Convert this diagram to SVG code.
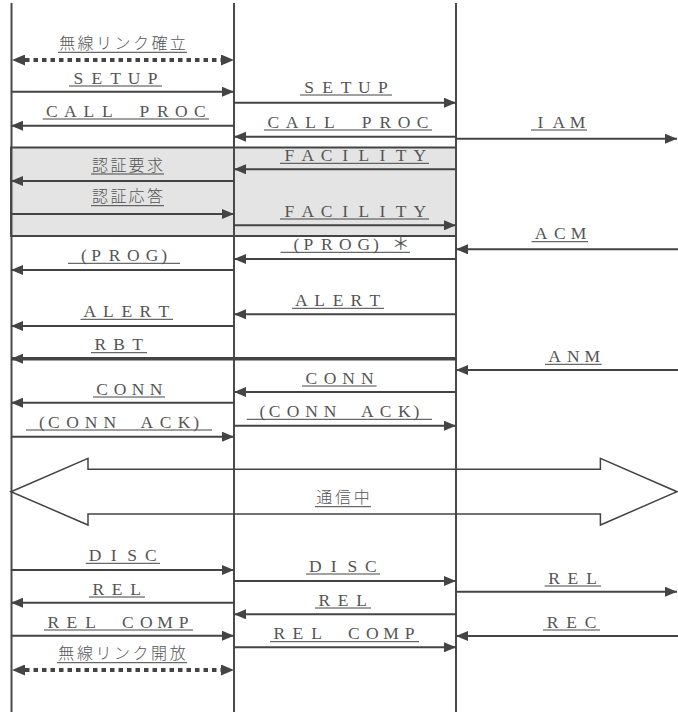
<svg xmlns="http://www.w3.org/2000/svg" width="678" height="712" viewBox="0 0 678 712">
<style>
.ll{stroke:#4a4a4a;stroke-width:2;fill:none}
.msg{stroke:#444;stroke-width:2;fill:none;marker-end:url(#ah)}
.thick{stroke-width:3.5}
.dot{stroke:#444;stroke-width:4;stroke-dasharray:4.5 4;fill:none;marker-start:url(#dh);marker-end:url(#dh)}
.ul{stroke:#444;stroke-width:1}
.lt{font-family:"Liberation Serif","Noto Sans CJK JP",serif;font-size:17.5px;fill:#555;text-anchor:middle}
.jt{font-family:"Noto Sans CJK JP",sans-serif;font-size:16px;font-weight:300;fill:#555;text-anchor:middle}
</style>
<defs>
<marker id="ah" markerUnits="userSpaceOnUse" markerWidth="12" markerHeight="10" refX="12" refY="5" orient="auto"><path d="M0,0 L12,5 L0,10 z" fill="#444"/></marker>
<marker id="dh" markerUnits="userSpaceOnUse" markerWidth="13" markerHeight="11" refX="0" refY="5.5" orient="auto-start-reverse"><path d="M0,0 L13,5.5 L0,11 z" fill="#444"/></marker>
</defs>
<rect id="auth-box" x="11" y="147.5" width="445" height="88.5" fill="#e4e4e4" stroke="#444" stroke-width="2"/>
<g id="lifeline-ms"><line class="ll" x1="11.5" y1="3" x2="11.5" y2="712"/></g>
<g id="lifeline-bs"><line class="ll" x1="234" y1="3" x2="234" y2="712"/></g>
<g id="lifeline-msc"><line class="ll" x1="456" y1="3" x2="456" y2="712"/></g>
<g id="connectors">
<line class="dot" x1="25" y1="60" x2="221" y2="60"/>
<line class="msg" x1="11" y1="91.7" x2="234" y2="91.7"/>
<line class="msg" x1="234" y1="125.7" x2="11" y2="125.7"/>
<line class="msg" x1="234" y1="102.7" x2="456" y2="102.7"/>
<line class="msg" x1="456" y1="136.7" x2="234" y2="136.7"/>
<line class="msg" x1="456" y1="138.7" x2="677" y2="138.7"/>
<line class="msg" x1="456" y1="169.3" x2="234" y2="169.3"/>
<line class="msg" x1="234" y1="181" x2="11" y2="181"/>
<line class="msg" x1="11" y1="214" x2="234" y2="214"/>
<line class="msg" x1="234" y1="225.3" x2="456" y2="225.3"/>
<line class="msg" x1="678" y1="249.3" x2="456" y2="249.3"/>
<line class="msg" x1="456" y1="259" x2="234" y2="259"/>
<line class="msg" x1="234" y1="270" x2="11" y2="270"/>
<line class="msg" x1="456" y1="314.3" x2="234" y2="314.3"/>
<line class="msg" x1="234" y1="326" x2="11" y2="326"/>
<line class="msg thick" x1="456" y1="358.7" x2="11" y2="358.7"/>
<line class="msg" x1="678" y1="370" x2="456" y2="370"/>
<line class="msg" x1="456" y1="392" x2="234" y2="392"/>
<line class="msg" x1="234" y1="402.7" x2="11" y2="402.7"/>
<line class="msg" x1="234" y1="425.7" x2="456" y2="425.7"/>
<line class="msg" x1="11" y1="436.7" x2="234" y2="436.7"/>
<polygon points="11,491.7 88,458.3 88,469.3 600.4,469.3 600.4,458.3 677,491.7 600.4,525 600.4,514 88,514 88,525" fill="none" stroke="#444" stroke-width="1.5"/>
<line class="msg" x1="11" y1="570" x2="234" y2="570"/>
<line class="msg" x1="234" y1="581" x2="456" y2="581"/>
<line class="msg" x1="456" y1="591.7" x2="677" y2="591.7"/>
<line class="msg" x1="234" y1="602.7" x2="11" y2="602.7"/>
<line class="msg" x1="456" y1="614.3" x2="234" y2="614.3"/>
<line class="msg" x1="11" y1="635.7" x2="234" y2="635.7"/>
<line class="msg" x1="678" y1="636" x2="456" y2="636"/>
<line class="msg" x1="234" y1="647.3" x2="456" y2="647.3"/>
<line class="dot" x1="25" y1="670" x2="221" y2="670"/>
</g>
<g id="labels">
<text class="jt" x="67.2 85.6 104.1 122.5 141 159.4 177.8" y="49">無線リンク確立</text><line class="ul" x1="58" y1="52.3" x2="187" y2="52.3"/>
<text class="lt" x="78.3 96.9 115.5 134.1 152.7" y="83.5">SETUP</text><line class="ul" x1="69" y1="86" x2="162" y2="86"/>
<text class="lt" x="51.9 70.4 88.9 107.4 125.9 144.3 162.8 181.3 199.8" y="116.5">CALL PROC</text><line class="ul" x1="42.7" y1="119" x2="209" y2="119"/>
<text class="lt" x="309.2 327.6 346 364.4 382.8" y="92.5">SETUP</text><line class="ul" x1="300" y1="95" x2="392" y2="95"/>
<text class="lt" x="273.3 292 310.7 329.3 348 366.7 385.3 404 422.7" y="127.5">CALL PROC</text><line class="ul" x1="264" y1="130" x2="432" y2="130"/>
<text class="lt" x="540.3 558.9 577.5" y="127.5">IAM</text><line class="ul" x1="531" y1="130" x2="587" y2="130"/>
<text class="lt" x="289.3 307.9 326.6 345.2 363.8 382.4 401.1 419.7" y="160.8">FACILITY</text><line class="ul" x1="280" y1="163.3" x2="429" y2="163.3"/>
<text class="jt" x="100.1 118.4 136.6 154.9" y="170.7">認証要求</text><line class="ul" x1="91" y1="174" x2="164" y2="174"/>
<text class="jt" x="100.1 118.4 136.6 154.9" y="202.4">認証応答</text><line class="ul" x1="91" y1="205.7" x2="164" y2="205.7"/>
<text class="lt" x="289.3 307.9 326.6 345.2 363.8 382.4 401.1 419.7" y="216.5">FACILITY</text><line class="ul" x1="280" y1="219" x2="429" y2="219"/>
<text class="lt" x="541 559.8 578.6" y="239.2">ACM</text><line class="ul" x1="531.6" y1="241.7" x2="588" y2="241.7"/>
<text class="lt" x="296.3 308.3 326.8 345.3 363.8 375.8 400.8" y="249.8">(PROG)＊</text><line class="ul" x1="280.5" y1="252.3" x2="410" y2="252.3"/>
<text class="lt" x="83.8 96 114.7 133.3 152 164.2" y="260.8">(PROG)</text><line class="ul" x1="68" y1="263.3" x2="180" y2="263.3"/>
<text class="lt" x="301.2 319.6 338 356.4 374.8" y="305.8">ALERT</text><line class="ul" x1="292" y1="308.3" x2="384" y2="308.3"/>
<text class="lt" x="89.75 108.25 126.75 145.25 163.75" y="316.8">ALERT</text><line class="ul" x1="80.5" y1="319.3" x2="173" y2="319.3"/>
<text class="lt" x="100.3 119 137.7" y="350.2">RBT</text><line class="ul" x1="91" y1="352.7" x2="147" y2="352.7"/>
<text class="lt" x="554.5 573.4 592.3" y="361.8">ANM</text><line class="ul" x1="545" y1="364.3" x2="601.7" y2="364.3"/>
<text class="lt" x="311.3 330 348.6 367.3" y="383.5">CONN</text><line class="ul" x1="302" y1="386" x2="376.6" y2="386"/>
<text class="lt" x="102 120 138 156" y="394.5">CONN</text><line class="ul" x1="93" y1="397" x2="165" y2="397"/>
<text class="lt" x="262.5 274.5 293 311.6 330.1 348.6 367.2 385.7 404.2 416.3" y="416.8">(CONN ACK)</text><line class="ul" x1="246.7" y1="419.3" x2="432" y2="419.3"/>
<text class="lt" x="41.8 53.9 72.5 91.1 109.7 128.3 146.9 165.5 184.1 196.2" y="427.5">(CONN ACK)</text><line class="ul" x1="26" y1="430" x2="212" y2="430"/>
<text class="jt" x="324.3 343 361.7" y="503.4">通信中</text><line class="ul" x1="315" y1="506.7" x2="371" y2="506.7"/>
<text class="lt" x="95 113.6 132.2 150.8" y="560.8">DISC</text><line class="ul" x1="85.7" y1="563.3" x2="160" y2="563.3"/>
<text class="lt" x="315.25 333.75 352.25 370.75" y="571.5">DISC</text><line class="ul" x1="306" y1="574" x2="380" y2="574"/>
<text class="lt" x="554 572.8 591.6" y="583.5">REL</text><line class="ul" x1="544.6" y1="586" x2="601" y2="586"/>
<text class="lt" x="98.3 117 135.7" y="594.5">REL</text><line class="ul" x1="89" y1="597" x2="145" y2="597"/>
<text class="lt" x="324.3 343 361.7" y="605.5">REL</text><line class="ul" x1="315" y1="608" x2="371" y2="608"/>
<text class="lt" x="53.3 71.9 90.6 109.2 127.8 146.4 165.1 183.7" y="627.5">REL COMP</text><line class="ul" x1="44" y1="630" x2="193" y2="630"/>
<text class="lt" x="552.5 571.5 590.5" y="627.5">REC</text><line class="ul" x1="543" y1="630" x2="600" y2="630"/>
<text class="lt" x="279.3 297.9 316.6 335.2 353.8 372.4 391.1 409.7" y="639.2">REL COMP</text><line class="ul" x1="270" y1="641.7" x2="419" y2="641.7"/>
<text class="jt" x="66.3 84.9 103.4 122 140.6 159.1 177.7" y="659.4">無線リンク開放</text><line class="ul" x1="57" y1="662.7" x2="187" y2="662.7"/>
</g>
</svg>
